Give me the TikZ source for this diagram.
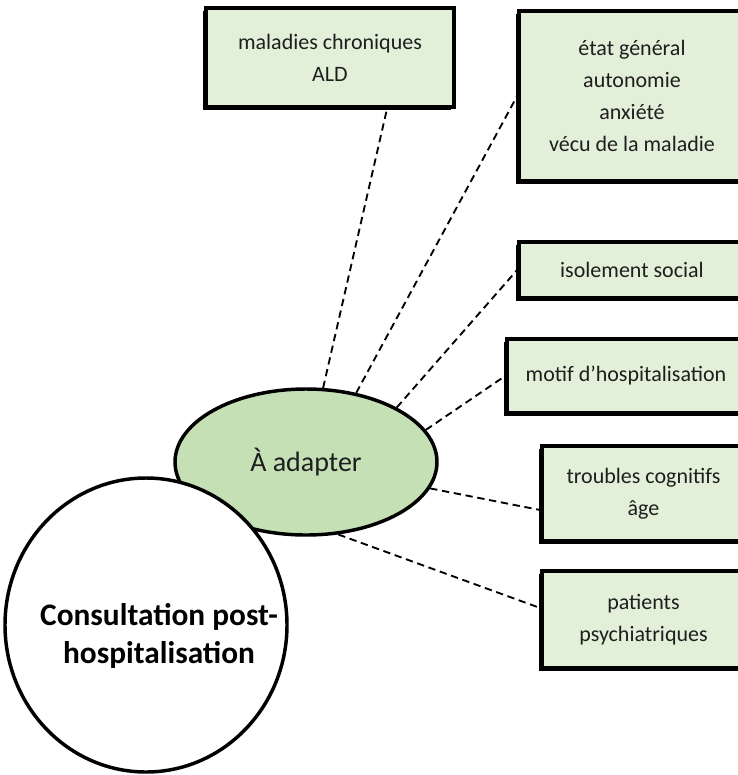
\documentclass[tikz,border=0pt]{standalone}
\usepackage{fontspec}
\setmainfont{Carlito}
\usetikzlibrary{shadows,shapes.geometric}
\definecolor{boxgreen}{HTML}{E2F0D9}
\definecolor{ovalgreen}{HTML}{C5E0B4}
\definecolor{inktext}{HTML}{1E1E1E}
\begin{document}
\begin{tikzpicture}[x=0.75pt,y=-0.75pt,
  factor/.style={draw=black, line width=2.8pt, fill=boxgreen, align=center,
    text=inktext, font=\fontsize{16.5}{24}\selectfont, inner sep=0pt,
    drop shadow={shadow xshift=-2pt, shadow yshift=-2pt, opacity=1, fill=black}},
  link/.style={line width=1.4pt, dash pattern=on 5.5pt off 3.5pt}
]
\useasboundingbox (0,0) rectangle (738,775);
\fill[white] (0,0) rectangle (738,775);
\clip (0,0) rectangle (738,775);

% central oval, partly hidden by the main circle
\node[ellipse, draw, line width=2.6pt, fill=ovalgreen, inner sep=0pt,
  minimum width=196.5pt, minimum height=109.5pt,
  font=\fontsize{21}{25}\selectfont, text=inktext] (adapt) at (306,462) {À adapter};

% main circle
\node[ellipse, draw, line width=2.6pt, fill=white, inner sep=0pt,
  minimum width=211.5pt, minimum height=220.5pt] (consult) at (146,625) {};
\node[font=\bfseries\fontsize{23.5}{28}\selectfont, align=center] (consulttext)
  at (159,636) {Consultation post-\\hospitalisation};

% factor boxes
\node[factor, minimum width=186pt, minimum height=74.25pt] (chron) at (330,57.5)
  {maladies chroniques\\ALD};
\node[factor, minimum width=169.5pt, minimum height=127.5pt] (etat) at (632,96)
  {état général\\autonomie\\anxiété\\vécu de la maladie};
\node[factor, minimum width=169.5pt, minimum height=42pt] (iso) at (632,270)
  {isolement social};
\node[factor, minimum width=178.5pt, minimum height=55.5pt] (motif) at (626,376)
  {motif d’hospitalisation};
\node[factor, minimum width=152.25pt, minimum height=71.25pt] (cogn) at (643.5,493.5)
  {troubles cognitifs\\âge};
\node[factor, minimum width=152.25pt, minimum height=72.75pt] (psy) at (643.5,619.5)
  {patients\\psychiatriques};

% dashed links from the oval
\draw[link] (adapt.77.5) -- (chron.south -| 387,0);
\draw[link] (adapt.54.6) -- (etat.west);
\draw[link] (adapt.31.7) -- (iso.west);
\draw[link] (adapt.15.9) -- (motif.west);
\draw[link] (adapt.-12.1) -- (cogn.west |- 0,510);
\draw[link] (adapt.-66.3) -- (psy.west |- 0,608);
\end{tikzpicture}
\end{document}
